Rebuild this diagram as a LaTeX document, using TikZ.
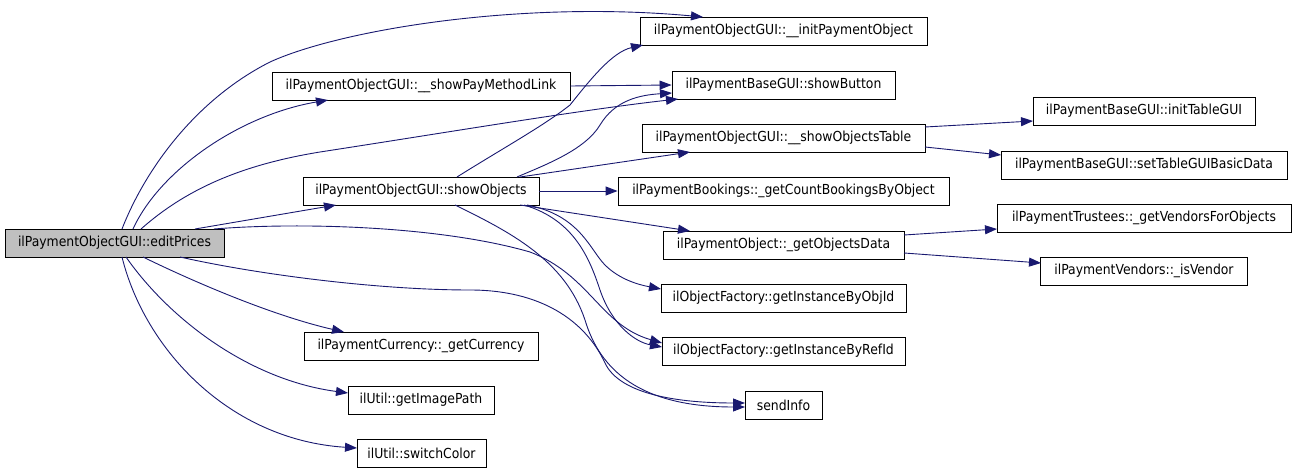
\documentclass[tikz,border=0pt]{standalone}
\usepackage{fontspec}
\setmainfont{DejaVu Sans Condensed}
\usetikzlibrary{arrows.meta,calc}
\definecolor{edgeblue}{HTML}{191970}
\definecolor{rootgray}{HTML}{BFBFBF}
\begin{document}
\begin{tikzpicture}[x=1pt,y=-1pt,
  fn/.style={draw=black, line width=0.9pt, fill=white, minimum height=28pt, inner sep=0pt, font=\fontsize{13.8}{16}\selectfont},
  call/.style={draw=edgeblue, line width=0.9pt, -{Triangle[length=12pt,width=9pt,fill=edgeblue]}}]
\useasboundingbox (0,0) rectangle (1296,473);
% nodes
\node[fn, minimum width=219pt, fill=rootgray] (ep) at (114.5,243) {ilPaymentObjectGUI::editPrices};
\node[fn, minimum width=287pt] (ipo) at (783.5,31) {ilPaymentObjectGUI::\_\_initPaymentObject};
\node[fn, minimum width=298pt] (spm) at (421,86) {ilPaymentObjectGUI::\_\_showPayMethodLink};
\node[fn, minimum width=223pt] (sb) at (783.5,85) {ilPaymentBaseGUI::showButton};
\node[fn, minimum width=283pt] (sot) at (783.5,138) {ilPaymentObjectGUI::\_\_showObjectsTable};
\node[fn, minimum width=222pt] (itg) at (1144,111) {ilPaymentBaseGUI::initTableGUI};
\node[fn, minimum width=286pt] (stg) at (1144,165) {ilPaymentBaseGUI::setTableGUIBasicData};
\node[fn, minimum width=236pt] (so) at (421,191) {ilPaymentObjectGUI::showObjects};
\node[fn, minimum width=331pt] (gcb) at (783.5,191) {ilPaymentBookings::\_getCountBookingsByObject};
\node[fn, minimum width=241pt] (god) at (783.5,245) {ilPaymentObject::\_getObjectsData};
\node[fn, minimum width=294pt] (gvo) at (1144,218) {ilPaymentTrustees::\_getVendorsForObjects};
\node[fn, minimum width=207pt] (isv) at (1144,271) {ilPaymentVendors::\_isVendor};
\node[fn, minimum width=245pt] (gio) at (783.5,298) {ilObjectFactory::getInstanceByObjId};
\node[fn, minimum width=243pt] (gir) at (783.5,351) {ilObjectFactory::getInstanceByRefId};
\node[fn, minimum width=234pt] (cur) at (421,346) {ilPaymentCurrency::\_getCurrency};
\node[fn, minimum width=146pt] (gip) at (421,400) {ilUtil::getImagePath};
\node[fn, minimum width=129pt] (swc) at (421.5,453) {ilUtil::switchColor};
\node[fn, minimum width=77pt] (si) at (783.5,405) {sendInfo};
% edges from editPrices
\draw[call] ($(ep)+(7.5,-14)$) .. controls (145,170) and (195,100) .. (270,62) .. controls (340,30) and (520,0) .. ($(ipo)+(-80.5,-14)$);
\draw[call] ($(ep)+(18.5,-14)$) .. controls (160,170) and (240,115) .. ($(spm)+(-93,14)$);
\draw[call] ($(ep)+(26.5,-14)$) .. controls (185,190) and (240,165) .. (320,152) .. controls (450,132) and (580,110) .. ($(sb)+(-105.5,14)$);
\draw[call] ($(ep)+(80.5,-14)$) -- ($(so)+(-85,14)$);
\draw[call] ($(ep)+(99.5,-14)$) .. controls (300,222) and (440,226) .. (530,252) .. controls (590,275) and (600,325) .. ($(gir)+(-121.5,-8)$);
\draw[call] ($(ep)+(65.5,14)$) .. controls (260,275) and (380,290) .. (470,290) .. controls (540,290) and (585,320) .. (605,363) .. controls (620,395) and (680,403) .. ($(si)+(-38.5,-2)$);
\draw[call] ($(ep)+(28.5,14)$) .. controls (190,280) and (270,315) .. ($(cur)+(-77,-14)$);
\draw[call] ($(ep)+(11.5,14)$) .. controls (170,320) and (250,380) .. ($(gip)+(-73,-7)$);
\draw[call] ($(ep)+(7.5,14)$) .. controls (145,350) and (230,440) .. ($(swc)+(-64.5,-5)$);
% edges from showObjects
\draw[call] ($(so)+(36,-14)$) .. controls (500,150) and (545,125) .. (570,105) .. controls (590,80) and (612,52) .. ($(ipo)+(-140.5,14)$);
\draw[call] ($(so)+(96,-14)$) .. controls (545,165) and (585,150) .. (600,125) .. controls (615,100) and (640,95) .. ($(sb)+(-111.5,8)$);
\draw[call] ($(so)+(99,-14)$) -- ($(sot)+(-93.5,14)$);
\draw[call] (so.east) -- (gcb.west);
\draw[call] ($(so)+(99,14)$) -- ($(god)+(-93.5,-14)$);
\draw[call] ($(so)+(106,14)$) .. controls (580,215) and (590,250) .. (605,265) .. controls (620,280) and (640,285) .. ($(gio)+(-122.5,-9)$);
\draw[call] ($(so)+(103,14)$) .. controls (575,220) and (590,260) .. (600,290) .. controls (612,325) and (635,342) .. ($(gir)+(-121.5,-4)$);
\draw[call] ($(so)+(34,14)$) .. controls (510,232) and (565,260) .. (585,320) .. controls (600,370) and (640,407) .. ($(si)+(-38.5,2)$);
% other edges
\draw[call] (spm.east) -- (sb.west);
\draw[call] ($(sot)+(141.5,-11)$) -- ($(itg)+(-111,10)$);
\draw[call] ($(sot)+(141.5,9)$) -- ($(stg)+(-143,-10)$);
\draw[call] ($(god)+(120.5,-10)$) -- ($(gvo)+(-147,11)$);
\draw[call] ($(god)+(120.5,8)$) -- ($(isv)+(-103,-8)$);
\end{tikzpicture}
\end{document}
